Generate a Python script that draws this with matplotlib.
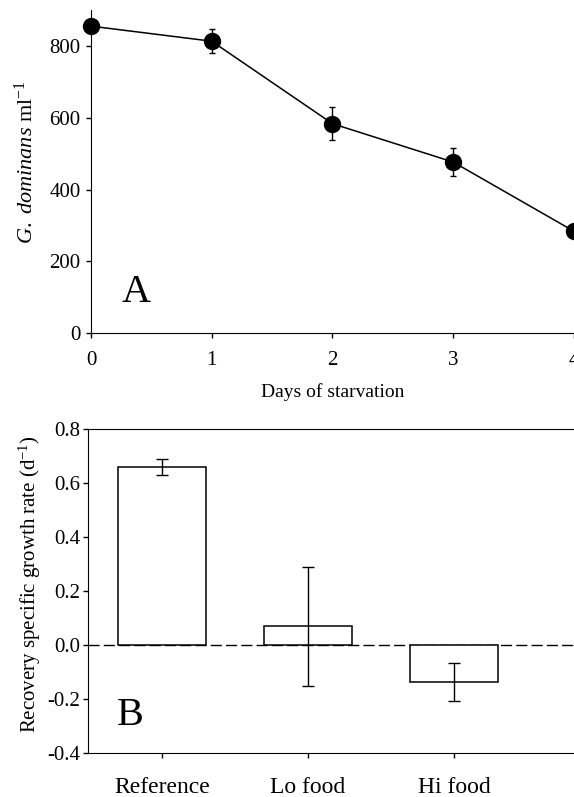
import matplotlib
matplotlib.use("Agg")
import matplotlib.pyplot as plt
import numpy as np

plt.rcParams["font.family"] = ["Liberation Serif", "DejaVu Serif"]
plt.rcParams["mathtext.fontset"] = "custom"
plt.rcParams["mathtext.rm"] = "Liberation Serif"
plt.rcParams["mathtext.it"] = "Liberation Serif:italic"

# Panel A: cell density during starvation
days = [0, 1, 2, 3, 4]
density = [856, 814, 584, 477, 284]
density_err = [0, 33, 46, 40, 0]

# Panel B: recovery growth rate
groups = ["Reference", "Lo food", "Hi food"]
growth = [0.66, 0.07, -0.137]
growth_err = [0.03, 0.22, 0.07]

fig = plt.figure(figsize=(5.74, 7.97), dpi=100)

ax1 = fig.add_axes([0.1585, 0.582, 0.8415, 0.405])
ax1.errorbar(days, density, yerr=density_err, color="black", lw=1.1,
             marker="o", ms=11.5, mfc="black", mec="black",
             capsize=2.5, elinewidth=1.0, capthick=1.0, clip_on=False, zorder=3)
ax1.set_xlim(0, 4)
ax1.set_ylim(0, 900)
ax1.set_xticks(days)
ax1.set_yticks([0, 200, 400, 600, 800])
ax1.spines["top"].set_visible(False)
ax1.spines["right"].set_visible(False)
ax1.tick_params(direction="out", length=3.6, width=1, labelsize=15, pad=4)
ax1.xaxis.set_tick_params(pad=9)
ax1.set_xlabel("Days of starvation", fontsize=14, labelpad=10)
ax1.set_ylabel(r"$\mathit{G.\ dominans}$ ml$^{-1}$", fontsize=16, labelpad=8)
ax1.yaxis.label.set_y(0.53)
ax1.text(0.064, 0.096, "A", transform=ax1.transAxes, fontsize=29, va="baseline")

ax2 = fig.add_axes([0.153, 0.0552, 0.847, 0.4065])
x = np.arange(len(groups))
ax2.bar(x, growth, width=0.6, color="white", edgecolor="black", lw=1.1, zorder=2)
ax2.errorbar(x, growth, yerr=growth_err, fmt="none", ecolor="black",
             elinewidth=1.0, capsize=4.5, capthick=1.0, zorder=3)
ax2.axhline(0, color="black", lw=1.0, ls=(0, (8, 3)), zorder=1)
ax2.set_xlim(-0.507, 2.82)
ax2.set_ylim(-0.4, 0.8)
ax2.set_xticks(x)
ax2.set_xticklabels(groups)
ax2.set_yticks(np.arange(-0.4, 0.81, 0.2))
ax2.yaxis.set_major_formatter(matplotlib.ticker.FuncFormatter(lambda v, p: f"{v:.1f}".replace("−", "-")))
ax2.spines["right"].set_visible(False)
ax2.tick_params(direction="out", length=3.6, width=1, labelsize=15, pad=2)
ax2.tick_params(axis="x", labelsize=17, pad=14)
ax2.set_ylabel(r"Recovery specific growth rate (d$^{-1}$)", fontsize=15, labelpad=3)
ax2.yaxis.label.set_y(0.52)
ax2.text(0.06, 0.086, "B", transform=ax2.transAxes, fontsize=29, va="baseline")

fig.savefig("out.png", dpi=100)
